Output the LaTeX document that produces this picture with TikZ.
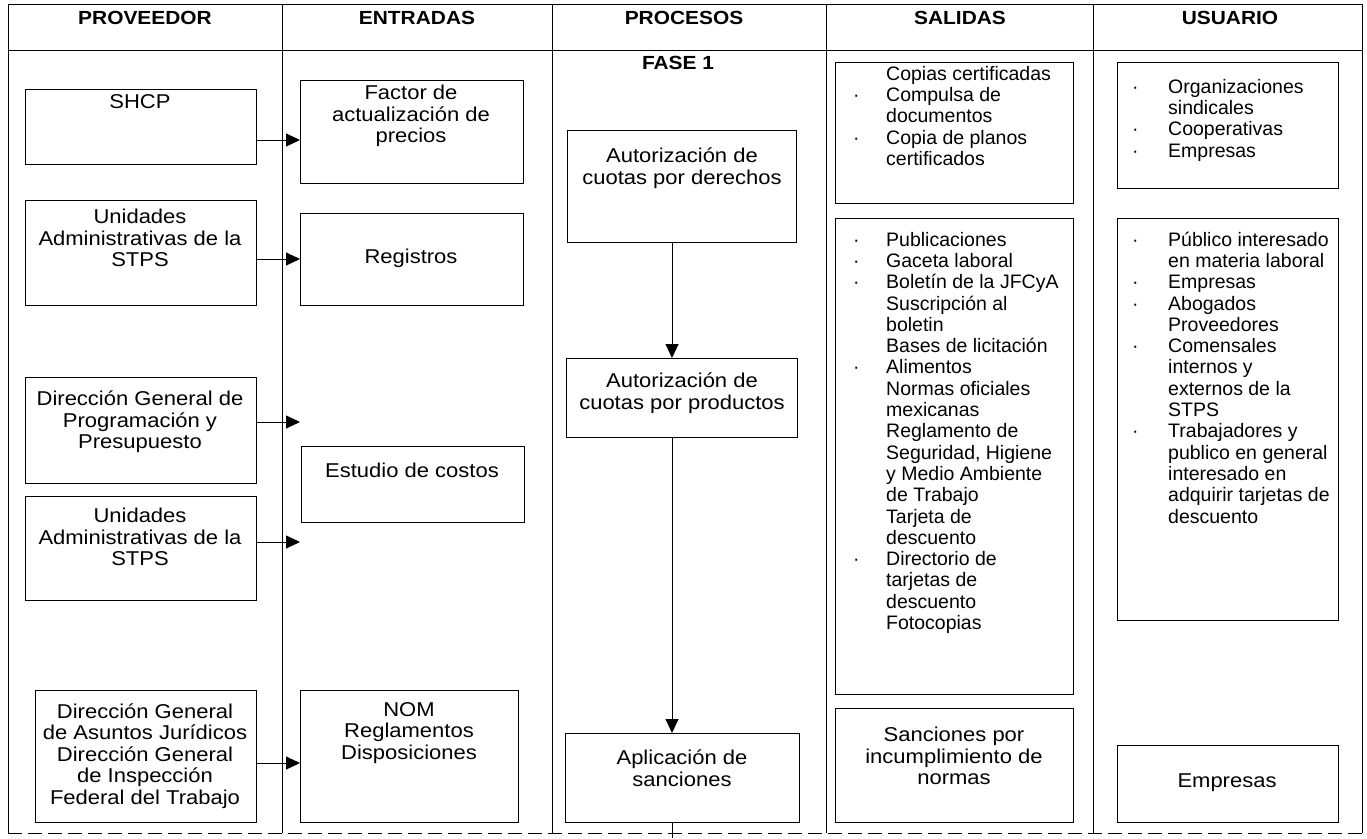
\documentclass[tikz,border=0pt]{standalone}
\usepackage{fontspec}
\setmainfont{Liberation Sans}
\newfontfamily\widefont{Liberation Sans}[FakeStretch=1.1]
\usetikzlibrary{arrows.meta}
\begin{document}
\begin{tikzpicture}[x=1pt,y=-1pt,
  box/.style={draw, line width=0.9pt, inner sep=0pt, anchor=north west},
  txt/.style={align=center, inner sep=0pt, font=\widefont\fontsize{20}{21.5}\selectfont},
  lst/.style={align=left, inner sep=0pt, anchor=north west, font=\fontsize{19.5}{21.3}\selectfont},
  hdr/.style={inner sep=0pt, font=\widefont\fontsize{19}{21}\selectfont\bfseries},
  gridline/.style={line width=0.8pt},
  arr/.style={line width=0.9pt, -{Triangle[length=14pt,width=13pt]}}
]
\useasboundingbox (0,0) rectangle (1367,838);

% frame and columns
\draw[gridline] (8,4) -- (1362,4);
\draw[gridline] (8,50) -- (1362,50);
\draw[gridline, dashed, dash pattern=on 14pt off 6pt] (8,833) -- (1362,833);
\foreach \cx in {8,282,552,826,1093,1362}
  \draw[gridline] (\cx,4) -- (\cx,833);

% headers
\node[hdr] (hprov) at (145,18) {PROVEEDOR};
\node[hdr] (hent) at (417,18) {ENTRADAS};
\node[hdr] (hproc) at (684,18) {PROCESOS};
\node[hdr] (hsal) at (960,18) {SALIDAS};
\node[hdr] (husu) at (1230,18) {USUARIO};
\node[hdr] (fase) at (678,63) {FASE 1};

% PROVEEDOR
\node[box, minimum width=231pt, minimum height=75pt] (p1) at (25,89) {};
\node[txt] (p1t) at (140,102) {SHCP};
\node[box, minimum width=231pt, minimum height=105pt] (p2) at (25,200) {};
\node[txt] (p2t) at (140,238) {Unidades\\Administrativas de la\\STPS};
\node[box, minimum width=231pt, minimum height=106pt] (p3) at (25,377) {};
\node[txt] (p3t) at (140,422) {Dirección General de\\Programación y\\Presupuesto};
\node[box, minimum width=231pt, minimum height=104pt] (p4) at (25,496) {};
\node[txt] (p4t) at (140,537) {Unidades\\Administrativas de la\\STPS};
\node[box, minimum width=221pt, minimum height=132pt] (p5) at (35,690) {};
\node[txt] (p5t) at (145,756) {Dirección General\\de Asuntos Jurídicos\\Dirección General\\de Inspección\\Federal del Trabajo};

% ENTRADAS
\node[box, minimum width=223pt, minimum height=103pt] (e1) at (300,80) {};
\node[txt] (e1t) at (411,116) {Factor de\\actualización de\\precios};
\node[box, minimum width=223pt, minimum height=92pt] (e2) at (300,213) {};
\node[txt] (e2t) at (411,258) {Registros};
\node[box, minimum width=223pt, minimum height=76pt] (e3) at (301,446) {};
\node[txt] (e3t) at (412,470) {Estudio de costos};
\node[box, minimum width=218pt, minimum height=132pt] (e4) at (300,690) {};
\node[txt] (e4t) at (409,733) {NOM\\Reglamentos\\Disposiciones};

\coordinate (e3a) at (300,422);
\coordinate (e3b) at (300,542);

% PROCESOS
\node[box, minimum width=229pt, minimum height=112pt] (r1) at (567,130) {};
\node[txt] (r1t) at (682,168) {Autorización de\\cuotas por derechos};
\node[box, minimum width=231pt, minimum height=79pt] (r2) at (566,358) {};
\node[txt] (r2t) at (682,393) {Autorización de\\cuotas por productos};
\node[box, minimum width=234pt, minimum height=89pt] (r3) at (565,733) {};
\node[txt] (r3t) at (682,768) {Aplicación de\\sanciones};
\coordinate (tail) at (672,838);

% SALIDAS
\node[box, minimum width=238pt, minimum height=141pt] (s1) at (835,62) {};
\node[lst] (s1t) at (853,65) {\begin{tabular}{@{}p{33pt}@{}l@{}}
 & Copias certificadas\\
· & Compulsa de\\
 & documentos\\
· & Copia de planos\\
 & certificados
\end{tabular}};
\node[box, minimum width=238pt, minimum height=476pt] (s2) at (835,218) {};
\node[lst] (s2t) at (853,231) {\begin{tabular}{@{}p{33pt}@{}l@{}}
· & Publicaciones\\
· & Gaceta laboral\\
· & Boletín de la JFCyA\\
 & Suscripción al\\
 & boletin\\
 & Bases de licitación\\
· & Alimentos\\
 & Normas oficiales\\
 & mexicanas\\
 & Reglamento de\\
 & Seguridad, Higiene\\
 & y Medio Ambiente\\
 & de Trabajo\\
 & Tarjeta de\\
 & descuento\\
· & Directorio de\\
 & tarjetas de\\
 & descuento\\
 & Fotocopias
\end{tabular}};
\node[box, minimum width=238pt, minimum height=114pt] (s3) at (835,708) {};
\node[txt] (s3t) at (954,756) {Sanciones por\\incumplimiento de\\normas};

% USUARIO
\node[box, minimum width=221pt, minimum height=126pt] (u1) at (1117,62) {};
\node[lst] (u1t) at (1132,78) {\begin{tabular}{@{}p{36pt}@{}l@{}}
· & Organizaciones\\
 & sindicales\\
· & Cooperativas\\
· & Empresas
\end{tabular}};
\node[box, minimum width=221pt, minimum height=402pt] (u2) at (1117,218) {};
\node[lst] (u2t) at (1132,231) {\begin{tabular}{@{}p{36pt}@{}l@{}}
· & Público interesado\\
 & en materia laboral\\
· & Empresas\\
· & Abogados\\
 & Proveedores\\
· & Comensales\\
 & internos y\\
 & externos de la\\
 & STPS\\
· & Trabajadores y\\
 & publico en general\\
 & interesado en\\
 & adquirir tarjetas de\\
 & descuento
\end{tabular}};
\node[box, minimum width=221pt, minimum height=77pt] (u3) at (1117,745) {};
\node[txt] (u3t) at (1227,783) {Empresas};

% connectors
\draw[arr] (p1.east |- 0,140) -- (e1.west |- 0,140);
\draw[arr] (p2.east |- 0,259) -- (e2.west |- 0,259);
\draw[arr] (p3.east |- e3a) -- (e3a);
\draw[arr] (p4.east |- e3b) -- (e3b);
\draw[arr] (p5.east |- 0,763) -- (e4.west |- 0,763);
\draw[arr] (r1.south -| 672,0) -- (r2.north -| 672,0);
\draw[arr] (r2.south -| 672,0) -- (r3.north -| 672,0);
\draw[line width=0.9pt] (r3.south -| tail) -- (tail);
\end{tikzpicture}
\end{document}
